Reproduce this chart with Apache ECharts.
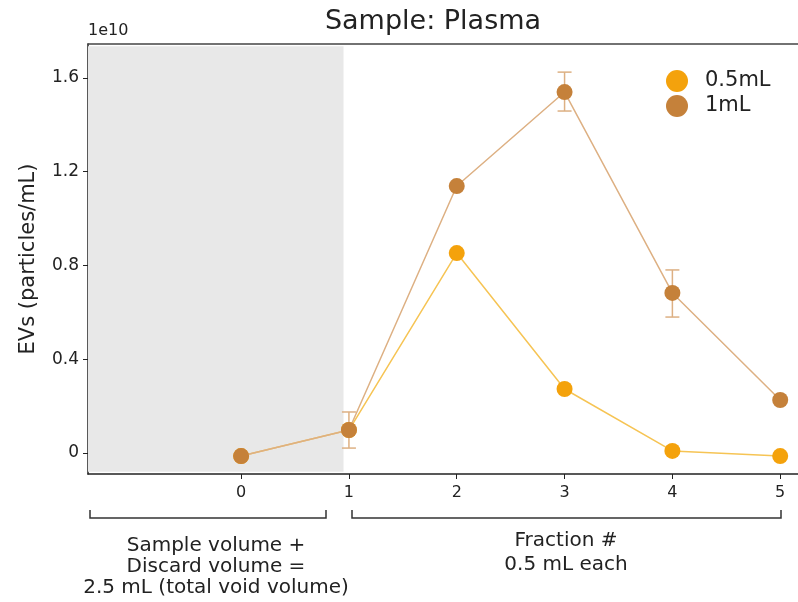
<!DOCTYPE html>
<html><head><meta charset="utf-8">
<script src="https://cdn.jsdelivr.net/npm/echarts@6/dist/echarts.min.js"></script>
<style>html,body{margin:0;padding:0;background:#fff}#c{width:798px;height:602px}</style>
</head><body><div id="c"></div>
<script>
const fractions = [0, 1, 2, 3, 4, 5];
const seriesNames = ['0.5mL', '1mL'];
const half_mL = [-0.013, 0.098, 0.853, 0.273, 0.009, -0.013];
const one_mL = [-0.013, 0.098, 1.139, 1.540, 0.683, 0.226];
const one_mL_low = [null, 0.021, null, 1.459, 0.580, null];
const one_mL_high = [null, 0.175, null, 1.625, 0.781, null];
const yTicks = [0, 0.4, 0.8, 1.2, 1.6];
const xTicks = [0, 1, 2, 3, 4, 5];
const voidEnd = 0.95;

const FONT = 'DejaVu Sans';
const C1 = '#F4A20C', C1line = '#F6C454';
const C2 = '#C5813A', C2line = '#DDB083';
const TXT = '#222';

const chart = echarts.init(document.getElementById('c'));
const errData = [];
fractions.forEach((x, i) => {
  if (one_mL_low[i] != null) errData.push([x, one_mL_low[i], one_mL_high[i]]);
});

chart.setOption({
  animation: false,
  textStyle: {fontFamily: FONT},
  title: {text: 'Sample: Plasma', left: 428, top: 3, textAlign: 'center',
    textStyle: {fontFamily: FONT, fontSize: 27, fontWeight: 'normal', color: TXT}},
  legend: {data: seriesNames, left: 661, top: 65, orient: 'vertical', icon: 'circle',
    itemWidth: 22, itemHeight: 22, itemGap: 3,
    textStyle: {fontFamily: FONT, fontSize: 21, color: TXT, padding: [0, 0, 0, 12]}},
  grid: {left: 88, right: 0, top: 44, bottom: 128},
  xAxis: [{
    type: 'value', min: -1.42, max: 5.165, position: 'bottom',
    axisLine: {onZero: false, lineStyle: {color: TXT, width: 1.5}},
    axisTick: {show: true, length: 5, customValues: xTicks, lineStyle: {color: TXT}},
    axisLabel: {customValues: xTicks, fontSize: 16, color: TXT, margin: 11, fontFamily: FONT},
    splitLine: {show: false}
  }, {
    type: 'value', min: -1.42, max: 5.165, position: 'top',
    axisLine: {onZero: false, lineStyle: {color: '#444', width: 1.5}},
    axisTick: {show: false}, axisLabel: {show: false}, splitLine: {show: false}
  }],
  yAxis: {
    type: 'value', min: -0.0896, max: 1.745,
    name: 'EVs (particles/mL)', nameLocation: 'middle', nameGap: 49,
    nameTextStyle: {fontSize: 21, color: TXT, fontFamily: FONT},
    axisLine: {show: true, onZero: false, lineStyle: {color: TXT, width: 1.5}},
    axisTick: {show: true, length: 5, customValues: yTicks, lineStyle: {color: TXT}},
    axisLabel: {customValues: yTicks, fontSize: 17, color: TXT, margin: 9, fontFamily: FONT,
      formatter: v => (Math.abs(v) < 1e-9 ? '0' : v.toFixed(1))},
    splitLine: {show: false}
  },
  graphic: [
    {type: 'text', left: 88, top: 23, style: {text: '1e10', fontSize: 16, fill: TXT, fontFamily: FONT}},
    {type: 'polyline', shape: {points: [[90, 510], [90, 518], [326, 518], [326, 510]]}, style: {stroke: '#333', lineWidth: 1.5, fill: null}},
    {type: 'polyline', shape: {points: [[352, 510], [352, 518], [781, 518], [781, 510]]}, style: {stroke: '#333', lineWidth: 1.5, fill: null}},
    {type: 'text', x: 216, y: 535, style: {text: 'Sample volume +\nDiscard volume =\n2.5 mL (total void volume)', align: 'center', fontSize: 20, lineHeight: 21, fill: TXT, fontFamily: FONT}},
    {type: 'text', x: 566, y: 529, style: {text: 'Fraction #\n0.5 mL each', align: 'center', fontSize: 20, lineHeight: 24, fill: TXT, fontFamily: FONT}}
  ],
  series: [
    {
      name: seriesNames[0], type: 'line', data: fractions.map((x, i) => [x, half_mL[i]]),
      symbol: 'circle', symbolSize: 16, itemStyle: {color: C1},
      lineStyle: {color: C1line, width: 1.5}, z: 3,
      markArea: {silent: true, itemStyle: {color: '#E8E8E8'},
        data: [[{xAxis: -1.42, yAxis: -0.08}, {xAxis: voidEnd, yAxis: 1.735}]]}
    },
    {
      name: seriesNames[1], type: 'line', data: fractions.map((x, i) => [x, one_mL[i]]),
      symbol: 'circle', symbolSize: 16, itemStyle: {color: C2},
      lineStyle: {color: C2line, width: 1.5}, z: 4
    },
    {
      type: 'custom', name: 'err1', data: errData, z: 3,
      renderItem: (params, api) => {
        const x = api.value(0);
        const lo = api.coord([x, api.value(1)]);
        const hi = api.coord([x, api.value(2)]);
        const w = 7;
        const st = {stroke: C2line, lineWidth: 1.5};
        return {type: 'group', children: [
          {type: 'line', shape: {x1: lo[0], y1: lo[1], x2: hi[0], y2: hi[1]}, style: st},
          {type: 'line', shape: {x1: lo[0] - w, y1: lo[1], x2: lo[0] + w, y2: lo[1]}, style: st},
          {type: 'line', shape: {x1: hi[0] - w, y1: hi[1], x2: hi[0] + w, y2: hi[1]}, style: st}
        ]};
      }
    }
  ]
});
</script></body></html>
